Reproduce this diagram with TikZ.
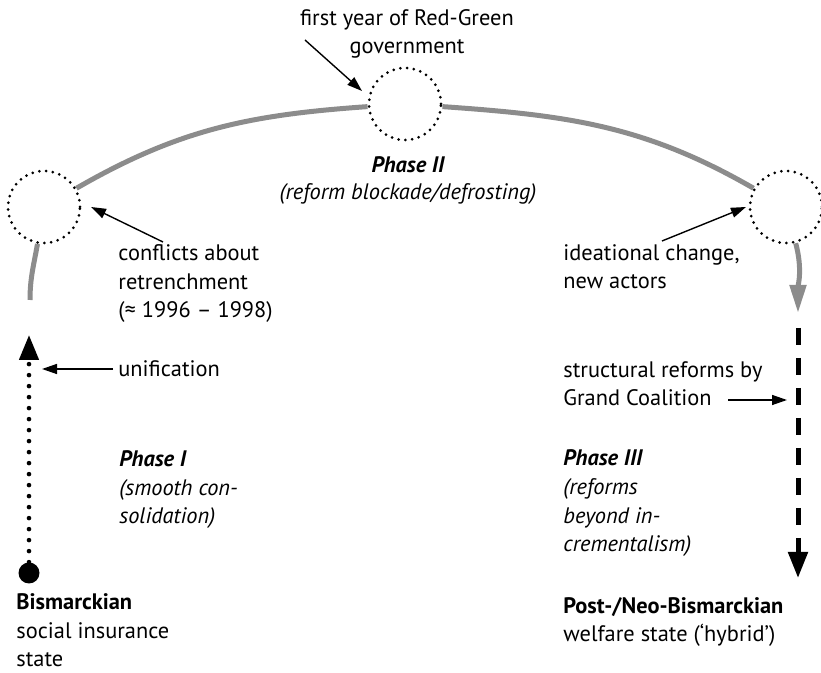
\documentclass[tikz,border=0pt]{standalone}
\usepackage{fontspec}
\setmainfont{PT Sans}
\usetikzlibrary{arrows.meta}
\definecolor{linegray}{RGB}{140,140,140}
\begin{document}
\begin{tikzpicture}[x=0.5pt,y=-0.5pt,
  txt/.style={inner sep=0pt, align=left, font=\fontsize{11.2}{14.4}\selectfont},
  ctxt/.style={inner sep=0pt, align=center, font=\fontsize{11.2}{14.4}\selectfont},
  phasecircle/.style={circle, draw=black, line width=1.5pt, dash pattern=on 0pt off 3.4pt, line cap=round, fill=white, minimum size=36pt, inner sep=0pt},
  grayline/.style={draw=linegray, line width=2.5pt},
  conn/.style={draw=black, line width=0.7pt, -{Triangle[length=7.5pt,width=5pt]}},
  dotline/.style={draw=black, line width=2.3pt, line cap=round, dash pattern=on 0pt off 5.5pt, -{Triangle[length=12.5pt,width=9.5pt]}},
  dashline/.style={draw=black, line width=2.5pt, dash pattern=on 8.5pt off 6.5pt, -{Triangle[length=13pt,width=9.5pt]}},
]
\useasboundingbox (0,0) rectangle (821,673);

% circles
\node[phasecircle] (L) at (44,207) {};
\node[phasecircle] (T) at (405,104) {};
\node[phasecircle] (R) at (786,207) {};

% gray arc
\draw[grayline] (L) to[out=30,in=184] (T);
\draw[grayline] (T) to[out=-4,in=150] (R);
\coordinate (gl) at (30,300);
\draw[grayline] (gl) to[out=90,in=260] (L);
\coordinate (gr) at (798,313);
\draw[grayline,-{Triangle[length=14pt,width=8pt]}] (R) to[out=-75,in=90] (gr);

% left dotted arrow
\node[circle, fill=black, minimum size=10.5pt, inner sep=0pt] (B) at (29,573) {};
\coordinate (lt) at (29,335);
\draw[dotline] (B) -- (lt);

% right dashed arrow
\coordinate (rd1) at (798,328);
\coordinate (rd2) at (798,578);
\draw[dashline] (rd1) -- (rd2);

% texts (anchor = baseline of the last line)
\node[ctxt, anchor=base] (fy) at (407,54) {first year of Red-Green\\government};
\node[ctxt, anchor=base, font=\fontsize{11.2}{14.4}\selectfont\bfseries\itshape] (p2) at (408,173) {Phase II};
\node[ctxt, anchor=base, font=\fontsize{11.2}{14.4}\selectfont\itshape] (p2b) at (408,200) {(reform blockade/defrosting)};

\node[txt, anchor=base west] (conf) at (118,318) {conflicts about\\retrenchment\\(≈ 1996 – 1998)};
\node[txt, anchor=base west] (unif) at (118,377) {unification};
\node[txt, anchor=base west] (p1) at (119,524) {\textbf{\textit{Phase I}}\\\textit{(smooth con-}\\\textit{solidation)}};
\node[txt, anchor=base west] (bis) at (16,667) {\textbf{Bismarckian}\\social insurance\\state};

\node[txt, anchor=base west] (idea) at (563,289) {ideational change,\\new actors};
\node[txt, anchor=base west] (struc) at (563,406) {structural reforms by\\Grand Coalition};
\node[txt, anchor=base west] (p3) at (563,552) {\textbf{\textit{Phase III}}\\\textit{(reforms}\\\textit{beyond in-}\\\textit{crementalism)}};
\node[txt, anchor=base west] (post) at (563,642) {\textbf{Post-/Neo-Bismarckian}\\welfare state (‘hybrid’)};

% thin arrows
\coordinate (a1s) at (305,40);  \coordinate (a1e) at (362,91);
\coordinate (a2s) at (163,242); \coordinate (a2e) at (91,207);
\coordinate (a3s) at (113,369); \coordinate (a3e) at (42,369);
\coordinate (a4s) at (662,241); \coordinate (a4e) at (746,207);
\coordinate (a5s) at (728,400); \coordinate (a5e) at (787,400);
\draw[conn] (a1s) -- (a1e);
\draw[conn] (a2s) -- (a2e);
\draw[conn] (a3s) -- (a3e);
\draw[conn] (a4s) -- (a4e);
\draw[conn] (a5s) -- (a5e);
\end{tikzpicture}
\end{document}
